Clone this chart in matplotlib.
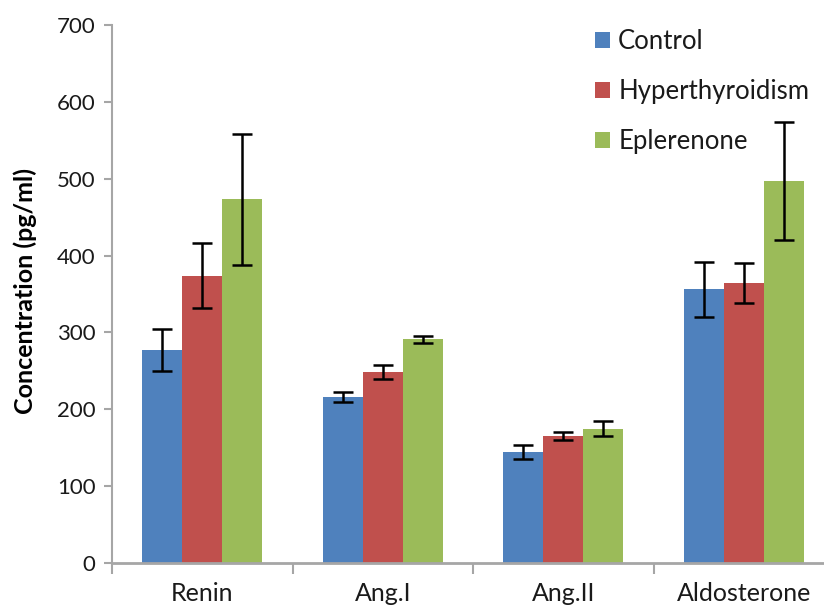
import matplotlib
matplotlib.use("Agg")
import matplotlib.pyplot as plt
import numpy as np

categories = ["Renin", "Ang.I", "Ang.II", "Aldosterone"]
series = ["Control", "Hyperthyroidism", "Eplerenone"]
control = [277, 216, 144, 356]
control_err = [27, 7, 9, 36]
hyper = [374, 248, 165, 364]
hyper_err = [42, 9, 5, 26]
epl = [473, 291, 175, 497]
epl_err = [85, 5, 10, 77]
colors = ["#4F81BD", "#C0504D", "#9BBB59"]

plt.rcParams['font.family'] = ['Lato', 'DejaVu Sans']

fig = plt.figure(figsize=(8.24, 6.07), dpi=100)
ax = fig.add_axes([112/824, 1-563/607, 722/824, (563-25)/607])

x = np.arange(len(categories))
w = 1/4.5
vals = [control, hyper, epl]
errs = [control_err, hyper_err, epl_err]
for i, (v, e, c, s) in enumerate(zip(vals, errs, colors, series)):
    ax.bar(x + (i-1)*w, v, width=w, color=c, label=s, zorder=2)
    ax.errorbar(x + (i-1)*w, v, yerr=e, fmt='none', ecolor='black',
                elinewidth=1.8, capsize=7, capthick=1.8, zorder=3)

ax.set_xlim(-0.5, len(categories)-0.5)
ax.set_ylim(0, 700)
ax.set_yticks(range(0, 701, 100))
ax.tick_params(axis='y', labelsize=16, colors='#A6A6A6', labelcolor='#1a1a1a',
               length=6, width=1.5, pad=6)
ax.set_xticks(x)
ax.set_xticklabels(categories)
ax.set_xticks(np.arange(-0.5, len(categories)), minor=True)
ax.tick_params(axis='x', which='major', length=0, labelsize=18, labelcolor='#1a1a1a', pad=14)
ax.tick_params(axis='x', which='minor', length=8, width=1.5, colors='#A6A6A6')
for sp in ['top', 'right']:
    ax.spines[sp].set_visible(False)
ax.spines['left'].set_color('#A6A6A6')
ax.spines['left'].set_linewidth(1.5)
ax.spines['bottom'].set_color('#A6A6A6')
ax.spines['bottom'].set_linewidth(2)
ax.set_ylabel("Concentration (pg/ml)", fontsize=18, fontweight='bold')
ax.yaxis.set_label_coords(-0.104, 0.505)

leg = ax.legend(loc='upper left', bbox_to_anchor=((595-112)/722, 0.993), frameon=False,
                fontsize=18.5, handlelength=0.58, handleheight=0.58,
                handletextpad=0.32, labelspacing=0.97, borderpad=0, borderaxespad=0)
for t in leg.get_texts():
    t.set_color('#1a1a1a')

fig.savefig("out.png", dpi=100)
